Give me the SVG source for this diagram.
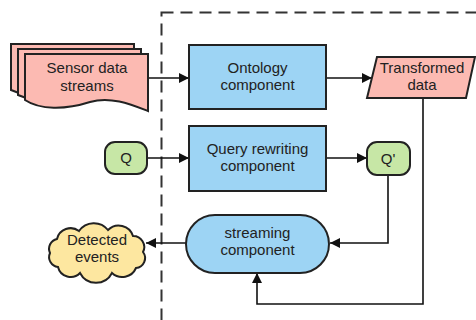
<svg xmlns="http://www.w3.org/2000/svg" width="476" height="320" viewBox="0 0 476 320">
<defs>
<style>
.t{font-family:"Liberation Sans",Arial,sans-serif;font-size:15px;fill:#222;text-anchor:middle}
.box{fill:#9dd4f4;stroke:#222;stroke-width:2}
.pink{fill:#fcbab2;stroke:#222;stroke-width:2}
.green{fill:#c7e7a6;stroke:#222;stroke-width:2}
.yellow{fill:#fde7a0;stroke:#222;stroke-width:2}
.c{fill:none;stroke:#111;stroke-width:1.6}
</style>
<marker id="ah" viewBox="0 0 10 10" refX="10" refY="5" markerWidth="12" markerHeight="10" markerUnits="userSpaceOnUse" orient="auto">
<path d="M0,0 L10,5 L0,10 Z" fill="#111"/>
</marker>
</defs>
<rect width="476" height="320" fill="#fff"/>
<rect x="161.5" y="12.5" width="330" height="308.5" fill="none" stroke="#333" stroke-width="2" stroke-dasharray="12 7"/>
<g id="connectors">
<path class="c" d="M148,78 H189" marker-end="url(#ah)"/>
<path class="c" d="M326,78 H372" marker-end="url(#ah)"/>
<path class="c" d="M147,158 H189" marker-end="url(#ah)"/>
<path class="c" d="M326,158 H367" marker-end="url(#ah)"/>
<path class="c" d="M388,175 V243 H330" marker-end="url(#ah)"/>
<path class="c" d="M423,98 V304 H257 V273" marker-end="url(#ah)"/>
<path class="c" d="M186,243 H146" marker-end="url(#ah)"/>
</g>
<g id="sensor">
<path class="pink" d="M11,44 H134 V100 C120,96 100,92 80,97 C55,102 35,100 11,90 Z"/>
<path class="pink" d="M18,49 H141 V105 C127,100 107,94 87,99 C62,104 42,105 18,95 Z"/>
<path class="pink" d="M25,54 H148 V111 C130,104 110,96 90,102 C65,110 40,110 25,100 Z"/>
<text class="t" x="87" y="73">Sensor data</text>
<text class="t" x="87" y="91">streams</text>
</g>
<g id="ontology">
<rect class="box" x="189" y="45" width="137" height="64"/>
<text class="t" x="257.5" y="73">Ontology</text>
<text class="t" x="257.5" y="90">component</text>
</g>
<g id="transformed">
<path class="pink" d="M377,57 H475 L466,98 H367 Z"/>
<text class="t" x="422" y="73">Transformed</text>
<text class="t" x="422" y="90">data</text>
</g>
<g id="q">
<rect class="green" x="105" y="142" width="42" height="32" rx="10"/>
<text class="t" x="126" y="163">Q</text>
</g>
<g id="query">
<rect class="box" x="189" y="126" width="137" height="65"/>
<text class="t" x="257.5" y="154">Query rewriting</text>
<text class="t" x="257.5" y="171">component</text>
</g>
<g id="qprime">
<rect class="green" x="367" y="142" width="43" height="33" rx="10"/>
<text class="t" x="388" y="164">Q'</text>
</g>
<g id="streaming">
<rect class="box" x="186" y="215" width="143" height="58" rx="29"/>
<text class="t" x="257.5" y="238">streaming</text>
<text class="t" x="257.5" y="255">component</text>
</g>
<g id="detected">
<path class="yellow" d="M57,239 A14,14 0 0 1 79,231 A18,18 0 0 1 108,230 A15,15 0 0 1 133,236 A11,11 0 0 1 143,252 A10,10 0 0 1 136,268 A15,15 0 0 1 112,273 A18,18 0 0 1 80,273 A13,13 0 0 1 58,267 A10,10 0 0 1 50,253 A10,10 0 0 1 57,239 Z"/>
<text class="t" x="97" y="245">Detected</text>
<text class="t" x="97" y="262">events</text>
</g>
</svg>
